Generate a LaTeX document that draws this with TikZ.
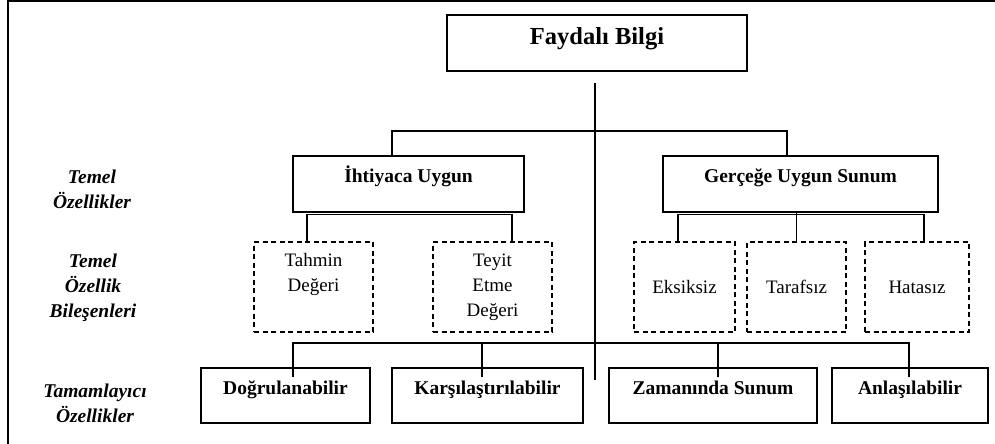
\documentclass[tikz,border=0pt]{standalone}
\usepackage{fontspec}
\setmainfont{Liberation Serif}
\begin{document}
\begin{tikzpicture}[x=1pt, y=-1pt, line width=1.4pt,
level box/.style={draw, rectangle, minimum height=56pt, inner sep=0pt, font=\fontsize{19.5}{25}\selectfont\bfseries, text height=13pt, text depth=16pt},
title box/.style={level box, font=\fontsize{24.5}{30}\selectfont\bfseries, text height=16pt, text depth=12pt},
part box/.style={draw, rectangle, dash pattern=on 5pt off 3.5pt, minimum height=90pt, inner sep=0pt, align=center, font=\fontsize{19}{25}\selectfont},
side label/.style={align=center, font=\fontsize{19.5}{25}\selectfont\bfseries\itshape}]
\useasboundingbox (0,0) rectangle (995,444);
\draw[line width=1.6pt] (8,444) -- (8,0.8) -- (995,0.8);
\node[title box, minimum width=300pt] (faydali) at (597,43) {Faydalı Bilgi};
\node[level box, minimum width=231pt] (ihtiyaca) at (408.5,184) {İhtiyaca Uygun};
\node[level box, minimum width=275pt] (gercege) at (800.5,184) {Gerçeğe Uygun Sunum};
\node[part box, minimum width=119pt] (tahmin) at (313.5,287) {Tahmin\\Değeri\\\phantom{g}};
\node[part box, minimum width=119pt] (teyit) at (492.5,287) {Teyit\\Etme\\Değeri};
\node[part box, minimum width=101pt] (eksiksiz) at (684.5,287) {Eksiksiz};
\node[part box, minimum width=99pt] (tarafsiz) at (796.5,287) {Tarafsız};
\node[part box, minimum width=104pt] (hatasiz) at (917,287) {Hatasız};
\node[level box, minimum width=169pt, minimum height=55pt] (dogru) at (285.5,395.5) {Doğrulanabilir};
\node[level box, minimum width=191pt, minimum height=55pt] (karsi) at (487.5,395.5) {Karşılaştırılabilir};
\node[level box, minimum width=208pt, minimum height=55pt] (zaman) at (713,395.5) {Zamanında Sunum};
\node[level box, minimum width=156pt, minimum height=55pt] (anlasil) at (910,395.5) {Anlaşılabilir};
\node[side label] (temel) at (92,189) {Temel\\Özellikler};
\node[side label] (bilesen) at (93,288) {Temel\\Özellik\\Bileşenleri};
\node[side label] (tamam) at (95,403) {Tamamlayıcı\\Özellikler};
\coordinate (spinetop) at (595,83);
\coordinate (spinebot) at (595,380);
\coordinate (split1) at (595,131);
\coordinate (split2) at (595,343);
\draw (spinetop) -- (spinebot);
\draw ([xshift=-16.5pt]ihtiyaca.north) |- (split1) -| ([xshift=-13.5pt]gercege.north);
\draw ([xshift=-6.5pt]tahmin.north) |- ([yshift=-2pt]ihtiyaca.south) -| ([xshift=19.5pt]teyit.north);
\draw ([xshift=-6.5pt]eksiksiz.north) |- ([yshift=-2pt]gercege.south) -| ([xshift=7pt]hatasiz.north);
\draw (tarafsiz.north) -- (tarafsiz.north |- gercege.south);
\draw ([xshift=7.5pt,yshift=-10pt]dogru.north) |- (split2) -| ([xshift=-1pt,yshift=-10pt]anlasil.north);
\draw ([xshift=-5.5pt,yshift=-10pt]karsi.north) -- ([xshift=-5.5pt]karsi.north |- split2);
\draw ([xshift=5pt,yshift=-10pt]zaman.north) -- ([xshift=5pt]zaman.north |- split2);
\end{tikzpicture}
\end{document}
